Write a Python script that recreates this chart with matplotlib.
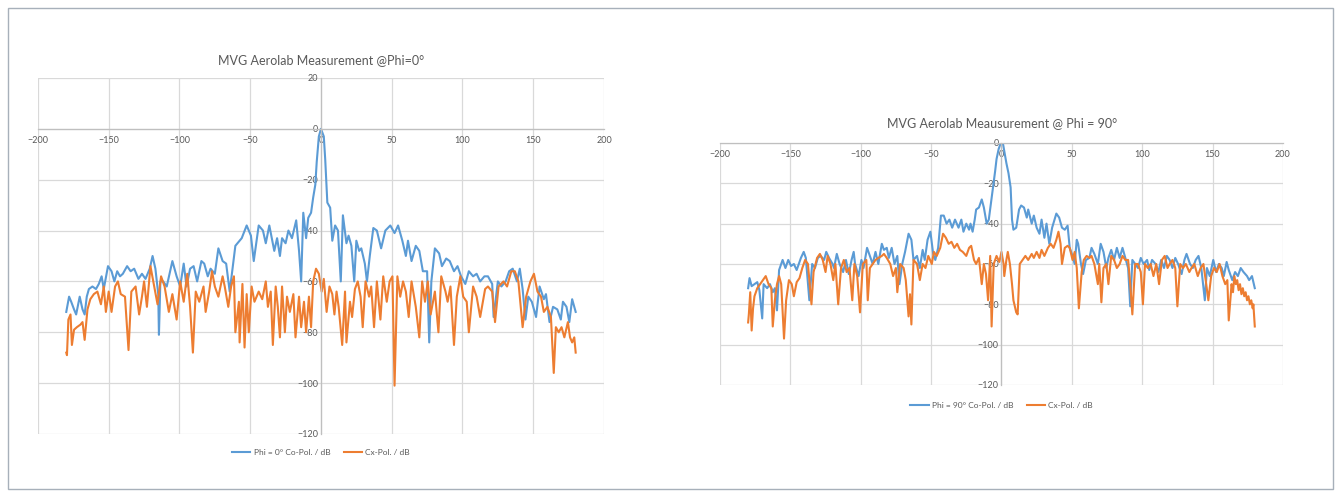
import matplotlib
matplotlib.use("Agg")
import matplotlib.pyplot as plt
from matplotlib.patches import Rectangle

plt.rcParams['font.family'] = ['Lato', 'DejaVu Sans']

BLUE = '#5B9BD5'
ORANGE = '#ED7D31'
TXT = '#595959'

# Phi = 0 cut, co-polar (angle in deg, level in dB)
phi0_co_ang = [-180, -178, -176.5, -174.5, -173, -170.5, -168.5, -167, -165.5, -164,
               -161.5, -159, -157, -155, -153.5, -150.5, -148, -146, -144, -142,
               -140, -137, -134.5, -132, -129, -126.5, -124, -121, -119, -117,
               -115, -114.5, -113.5, -111.5, -109, -105, -102, -99.5, -97, -95,
               -92.5, -90, -87.5, -84.5, -82.5, -80, -78, -75, -72.5, -69.5,
               -67, -64.5, -60.5, -56, -52.5, -49.5, -47.5, -44, -41, -39,
               -36.5, -33, -31, -29, -27.5, -25, -23, -20.5, -17.5, -15.5,
               -14, -12.5, -10.5, -9, -7, -5.5, -4, -3, -1.5, 0,
               2, 3, 4.5, 6.5, 8, 10, 12, 14, 15.5, 18,
               19.5, 21.5, 23.5, 25, 27, 28.5, 31, 32.5, 34.5, 37,
               39.5, 42.5, 45.5, 49, 52, 54.5, 57.5, 60, 61.5, 64,
               67, 69.5, 72, 75, 76.5, 78, 80.5, 83.5, 85.5, 88.5,
               91, 94, 96.5, 99, 102, 104.5, 107.5, 110, 112.5, 115.5,
               118, 121, 122, 125, 127.5, 130.5, 133, 135.5, 138.5, 140.5,
               142.5, 144.5, 146.5, 149, 152, 154.5, 157.5, 159, 161.5, 164,
               167, 169.5, 171, 173.5, 175.5, 177.5, 180]
phi0_co_db = [-72, -66, -68, -71, -73, -66, -71, -73, -66, -63,
              -62, -63, -61, -58, -63, -54, -56, -60, -56, -58,
              -57, -54, -56, -55, -59, -57, -59, -55, -50, -55,
              -65, -81, -60, -60, -62, -52, -58, -62, -53, -62,
              -55, -54, -60, -52, -53, -58, -55, -57, -47, -52,
              -53, -64, -46, -43, -38, -42, -52, -38, -40, -45,
              -38, -48, -43, -50, -43, -45, -40, -43, -36, -48,
              -60, -33, -43, -35, -33, -27, -22, -13, -3, 0,
              -3, -12, -29, -31, -44, -38, -40, -60, -34, -45,
              -42, -46, -60, -44, -48, -47, -53, -60, -50, -39,
              -40, -47, -40, -38, -41, -38, -44, -50, -44, -52,
              -46, -48, -56, -56, -84, -60, -47, -49, -54, -51,
              -52, -56, -54, -58, -61, -56, -58, -57, -60, -58,
              -58, -61, -74, -60, -62, -60, -56, -55, -60, -55,
              -63, -75, -66, -68, -74, -62, -67, -65, -76, -70,
              -71, -75, -68, -70, -76, -67, -72]

# Phi = 0 cut, cross-polar
phi0_cx_ang = [-180, -179.5, -178.5, -177, -176, -174.5, -172.5, -170, -168.5, -167,
               -165, -163, -160.5, -158, -155.5, -153.5, -152, -150, -148, -145.5,
               -143.5, -141.5, -138.5, -136, -134, -131, -128.5, -126.5, -125, -123,
               -120.5, -118.5, -115.5, -113, -110.5, -107.5, -105, -102, -99.5, -97,
               -94.5, -92.5, -90.5, -88.5, -86, -83, -81.5, -79, -77, -75,
               -72.5, -69.5, -68, -65.5, -63.5, -61.5, -60.5, -58, -57.5, -55.5,
               -54, -52.5, -51, -49, -47, -44, -41.5, -39, -37.5, -35.5,
               -34, -32, -30.5, -29, -27.5, -25.5, -24, -22, -19.5, -18,
               -15.5, -14, -12, -10.5, -8.5, -7, -5.5, -3.5, -1.5, 0.5,
               2, 4, 6, 8, 9.5, 11, 12.5, 15, 17, 18,
               20.5, 22, 24, 26, 28, 29.5, 31.5, 34, 35.5, 37.5,
               39.5, 42, 44, 46.5, 48.5, 50.5, 52, 54, 56, 58,
               60, 62, 64, 67, 69.5, 71.5, 73.5, 75.5, 77.5, 80.5,
               83, 85, 88, 89.5, 91.5, 94, 96, 98.5, 100.5, 103,
               104.5, 107.5, 110, 112.5, 116, 118, 121, 123, 125.5, 129,
               131.5, 134.5, 137, 139.5, 142.5, 145, 148, 150.5, 153, 155.5,
               157.5, 160, 162.5, 164.5, 166, 168, 170, 172, 174.5, 176,
               177.5, 179, 180]
phi0_cx_db = [-88, -89, -75, -73, -85, -79, -78, -77, -76, -83,
              -71, -67, -65, -64, -69, -62, -72, -64, -72, -62,
              -60, -65, -66, -87, -64, -62, -73, -66, -60, -70,
              -54, -60, -69, -58, -62, -72, -65, -75, -60, -68,
              -57, -70, -88, -64, -68, -62, -72, -64, -56, -62,
              -66, -58, -62, -70, -62, -58, -80, -68, -84, -61,
              -86, -65, -80, -62, -68, -64, -67, -60, -70, -64,
              -85, -62, -70, -82, -62, -80, -66, -72, -65, -82,
              -66, -78, -68, -80, -66, -78, -60, -55, -57, -64,
              -59, -72, -62, -65, -73, -64, -70, -85, -64, -84,
              -68, -74, -63, -60, -66, -78, -60, -66, -62, -78,
              -60, -75, -58, -68, -60, -58, -101, -58, -66, -60,
              -64, -74, -60, -70, -82, -60, -68, -60, -73, -64,
              -80, -58, -64, -68, -62, -85, -66, -58, -66, -68,
              -80, -62, -66, -74, -63, -62, -64, -76, -62, -60,
              -62, -56, -56, -60, -78, -66, -60, -57, -64, -66,
              -72, -70, -74, -96, -78, -80, -78, -82, -76, -82,
              -84, -82, -88]

# Phi = 90 cut, co-polar
phi90_co_ang = [-180, -179, -177.5, -175.5, -173.5, -172, -170, -169, -166.5, -164.5,
                -162.5, -161, -159.5, -158, -155.5, -153.5, -151.5, -149.5, -147.5, -145.5,
                -142.5, -140.5, -139, -136.5, -134.5, -132.5, -130.5, -128.5, -126, -124.5,
                -122.5, -120, -119, -117, -115, -112.5, -110.5, -108.5, -106.5, -105,
                -104, -101.5, -99.5, -98, -95.5, -93.5, -91.5, -89.5, -87.5, -85,
                -83.5, -81.5, -80, -78, -76, -74, -72.5, -70.5, -68.5, -66,
                -64, -62.5, -60, -58, -56, -54.5, -52.5, -50.5, -48.5, -47,
                -45, -43, -41, -39, -37, -35, -33, -30.5, -28.5, -27,
                -25, -23, -22, -20.5, -19, -18, -16, -14, -12.5, -10.5,
                -9, -7.5, -6, -4.5, -3.5, -2, -0.5, 1, 2, 3.5,
                5, 6.5, 7.5, 8.5, 10.5, 12.5, 14, 16, 18, 19,
                21.5, 23, 25, 27, 28.5, 30.5, 32, 34, 36, 39,
                41, 43, 45, 47, 48.5, 50.5, 52, 53.5, 54.5, 56.5,
                58, 60, 62.5, 64, 66, 68.5, 70.5, 72.5, 74.5, 76,
                78, 80, 82, 84, 86, 88, 90, 91.5, 93, 95,
                97, 99, 101, 103.5, 105, 107, 109.5, 111.5, 113.5, 115.5,
                117.5, 119.5, 121.5, 123.5, 125.5, 128, 130, 131.5, 134, 136,
                138, 140, 142, 144.5, 146, 148, 150.5, 152.5, 154.5, 156.5,
                158, 160, 161.5, 164, 166, 168, 170, 172, 174.5, 176,
                178, 180]
phi90_co_db = [-72, -67, -71, -70, -69, -73, -87, -70, -72, -70,
               -74, -72, -83, -63, -58, -62, -58, -61, -60, -63,
               -57, -54, -57, -78, -60, -62, -57, -56, -58, -54,
               -57, -60, -62, -55, -60, -64, -58, -65, -58, -54,
               -60, -66, -58, -62, -52, -56, -60, -54, -60, -50,
               -53, -52, -57, -52, -60, -56, -70, -60, -54, -45,
               -48, -58, -56, -62, -53, -58, -48, -44, -55, -58,
               -52, -36, -36, -40, -38, -42, -38, -42, -38, -44,
               -40, -43, -40, -44, -38, -33, -32, -28, -32, -40,
               -38, -30, -22, -14, -8, -3, 0, 0, -4, -10,
               -15, -22, -38, -43, -42, -33, -31, -32, -37, -33,
               -40, -36, -42, -45, -38, -47, -40, -50, -42, -35,
               -37, -42, -43, -41, -52, -56, -60, -48, -50, -60,
               -65, -58, -57, -52, -55, -60, -50, -54, -62, -57,
               -53, -58, -52, -57, -52, -57, -62, -81, -58, -60,
               -62, -57, -60, -58, -63, -58, -60, -64, -58, -62,
               -56, -58, -62, -57, -60, -65, -58, -55, -60, -62,
               -58, -56, -62, -78, -62, -66, -58, -64, -60, -62,
               -66, -59, -63, -68, -64, -66, -62, -64, -66, -68,
               -66, -72]

# Phi = 90 cut, cross-polar
phi90_cx_ang = [-180, -179.5, -178.5, -177.5, -176.5, -175.5, -173.5, -171.5, -169.5, -167.5,
                -165.5, -163.5, -162.5, -161, -159.5, -158, -156.5, -154.5, -153, -151,
                -149, -147.5, -145.5, -143.5, -141.5, -139.5, -137.5, -135, -133.5, -131,
                -129, -127, -125, -123.5, -121.5, -119.5, -118, -116, -114, -112,
                -110, -108, -106, -104.5, -102.5, -100.5, -98.5, -96, -95, -93.5,
                -91.5, -89.5, -87.5, -85, -83.5, -81.5, -79, -77, -75, -74,
                -72, -69.5, -68, -66, -65, -64, -62.5, -60, -58, -56,
                -54, -52, -49.5, -48, -46, -43.5, -41.5, -39.5, -37.5, -35.5,
                -33.5, -31.5, -29.5, -27.5, -25, -23, -21.5, -19.5, -18, -16,
                -14, -12.5, -11, -9.5, -8, -7, -5.5, -3.5, -1.5, 0,
                1.5, 2, 3.5, 4.5, 6, 7.5, 8.5, 10.5, 11.5, 13,
                15, 17, 19, 21.5, 23, 25, 27, 28.5, 30.5, 33,
                35, 37, 39, 40.5, 42, 43, 45, 47, 48.5, 50.5,
                52, 53.5, 55, 57, 58.5, 60.5, 62.5, 64, 66, 68.5,
                69.5, 71, 72.5, 74.5, 76, 78, 80, 82, 84, 86,
                88, 90, 91.5, 93, 95, 97, 99, 100.5, 102, 104,
                106, 108, 110, 112, 114, 116, 118, 119.5, 121.5, 123.5,
                125, 127, 129, 131, 133.5, 135, 137, 139.5, 141.5, 143.5,
                145.5, 147, 149, 151, 153, 155, 157, 159, 160.5, 161.5,
                163.5, 164.5, 165.5, 166.5, 167.5, 168.5, 169.5, 170.5, 171.5, 172.5,
                173.5, 174.5, 175.5, 176.5, 177.5, 178.5, 179, 180]
phi90_cx_db = [-89, -85, -74, -93, -82, -76, -72, -70, -68, -66,
               -70, -72, -91, -78, -70, -66, -70, -97, -78, -68,
               -70, -76, -69, -67, -62, -58, -60, -80, -64, -57,
               -55, -58, -64, -56, -60, -68, -60, -80, -62, -58,
               -64, -62, -78, -60, -66, -84, -60, -58, -78, -62,
               -60, -58, -57, -56, -55, -57, -60, -66, -62, -74,
               -60, -62, -68, -86, -75, -90, -58, -60, -68, -60,
               -62, -56, -60, -54, -56, -52, -45, -47, -50, -49,
               -52, -50, -53, -54, -56, -52, -51, -58, -60, -57,
               -70, -60, -65, -78, -56, -91, -60, -56, -59, -54,
               -60, -66, -58, -54, -60, -70, -78, -84, -85, -60,
               -58, -56, -58, -55, -57, -54, -57, -53, -56, -52,
               -50, -52, -48, -44, -50, -60, -52, -51, -52, -58,
               -54, -62, -82, -64, -58, -56, -57, -56, -60, -70,
               -60, -79, -62, -60, -70, -56, -58, -62, -60, -56,
               -58, -58, -70, -85, -60, -60, -64, -80, -60, -62,
               -60, -66, -60, -70, -58, -56, -62, -60, -58, -62,
               -81, -60, -62, -60, -64, -62, -60, -66, -62, -60,
               -70, -78, -66, -62, -64, -60, -66, -70, -68, -88,
               -70, -74, -66, -70, -68, -73, -70, -75, -72, -76,
               -74, -78, -76, -80, -78, -82, -80, -91]

x_ticks = [-200, -150, -100, -50, 0, 50, 100, 150, 200]


def excel_axes(ax, ymin, ymax):
    ax.set_xlim(-200, 200)
    ax.set_ylim(ymin, ymax)
    ax.set_xticks(x_ticks)
    ax.set_yticks(range(ymin, ymax + 1, 20))
    ax.grid(True, color='#d9d9d9', linewidth=0.9)
    ax.set_axisbelow(True)
    for s in ['top', 'right']:
        ax.spines[s].set_visible(False)
    ax.spines['left'].set_position(('data', 0))
    ax.spines['bottom'].set_position(('data', 0))
    for s in ['left', 'bottom']:
        ax.spines[s].set_color('#bfbfbf')
        ax.spines[s].set_linewidth(0.9)
    ax.tick_params(axis='both', length=0, labelsize=6.5, labelcolor=TXT)
    ax.tick_params(axis='x', pad=5)
    ax.tick_params(axis='y', pad=2)


fig = plt.figure(figsize=(13.41, 4.97), dpi=100)

# thin frame round the whole picture
fig.patches.append(Rectangle((0.006, 0.016), 0.988, 0.968, transform=fig.transFigure,
                             fill=False, edgecolor='#a7b0ba', linewidth=1))

ax1 = fig.add_axes([0.0283, 0.1268, 0.4221, 0.7163])
excel_axes(ax1, -120, 20)
ax1.plot(phi0_co_ang, phi0_co_db, color=BLUE, lw=1.5, label='Phi = 0° Co-Pol. / dB')
ax1.plot(phi0_cx_ang, phi0_cx_db, color=ORANGE, lw=1.5, label='Cx-Pol. / dB')
fig.text(0.2394, 0.879, 'MVG Aerolab Measurement @Phi=0°', ha='center', va='center',
         fontsize=9, color=TXT)
ax1.legend(loc='center', bbox_to_anchor=(0.2394, 0.0905), bbox_transform=fig.transFigure,
           ncol=2, frameon=False, fontsize=6, labelcolor=TXT, handlelength=2.2,
           handletextpad=0.4, columnspacing=1.6)

ax2 = fig.add_axes([0.5369, 0.2254, 0.4198, 0.4869])
excel_axes(ax2, -120, 0)
ax2.plot(phi90_co_ang, phi90_co_db, color=BLUE, lw=1.5, label='Phi = 90° Co-Pol. / dB')
ax2.plot(phi90_cx_ang, phi90_cx_db, color=ORANGE, lw=1.5, label='Cx-Pol. / dB')
fig.text(0.747, 0.752, 'MVG Aerolab Meausurement @ Phi = 90°', ha='center', va='center',
         fontsize=9, color=TXT)
ax2.legend(loc='center', bbox_to_anchor=(0.747, 0.185), bbox_transform=fig.transFigure,
           ncol=2, frameon=False, fontsize=6, labelcolor=TXT, handlelength=2.2,
           handletextpad=0.4, columnspacing=1.6)

fig.savefig('out.png', dpi=100)
